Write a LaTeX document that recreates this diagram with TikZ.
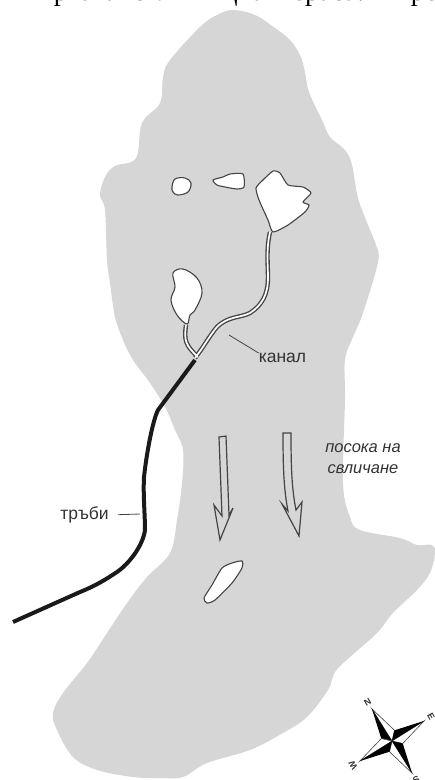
\documentclass[tikz,border=0pt]{standalone}
\usepackage{fontspec}
\setmainfont{Liberation Sans}
\newfontfamily\topfont{Liberation Serif}
\usepackage{tikz}

\begin{document}
\begin{tikzpicture}[
  x=1pt, y=-1pt,
  slide/.style={fill=slidegray, draw=none},
  pond/.style={fill=white, draw=linegray, line width=1.1pt},
  canalout/.style={draw=linegray, line width=4.4pt},
  canalin/.style={draw=white, line width=1.7pt},
  pipe/.style={draw=pipeblack, line width=4pt},
  flow/.style={draw=linegray, line width=1.2pt, line join=miter},
  leader/.style={draw=linegray, line width=0.8pt},
  label/.style={inner sep=0pt, text=textgray, font=\fontsize{17.5}{21}\selectfont, align=center},
  compass/.style={inner sep=0pt, text=textgray, font=\fontsize{9}{10}\selectfont\bfseries}
]
\definecolor{slidegray}{HTML}{D6D6D6}
\definecolor{linegray}{HTML}{444444}
\definecolor{textgray}{HTML}{333333}
\definecolor{pipeblack}{HTML}{1A1A1A}
\useasboundingbox (0,0) rectangle (435,780);

% clipped line of text above the picture
\begin{scope}
\clip (0,0) rectangle (435,780);
\node[anchor=base west, inner sep=0pt, font=\topfont\fontsize{28}{32}\selectfont] (caption) at (19,0.5) {Първата\hspace{0.3em} свличищна\hspace{0.3em} тераса:\hspace{0.3em} в\hspace{0.3em} ро};
\end{scope}

% landslide body
\path[slide] plot[smooth cycle, tension=0.6] coordinates {
  (233,10) (255,15) (275,28) (290,40) (300,55) (305,72) (309,92) (322,120)
  (330,137) (345,150) (352,165) (358,198) (368,225) (376,245) (378,262)
  (363,313) (353,337) (345,360) (345,400) (343,483) (350,517) (360,530) (400,538)
  (417,545) (432,545) (435,553) (430,573) (417,590) (393,613) (377,633) (350,657)
  (335,672) (328,690) (307,717) (283,733) (250,750) (207,763) (183,777) (160,778)
  (133,777) (97,770) (73,757) (57,730) (53,713) (63,693) (87,663) (107,633) (127,603)
  (147,577) (170,553) (177,520) (182,483) (183,450) (175,430) (165,407) (150,383)
  (133,360) (123,340) (115,317) (110,283) (107,260) (105,210) (100,195) (105,177)
  (115,166) (136,158) (142,123) (160,103) (163,77) (170,60) (200,27) (217,15)};

% canal
\draw[canalout] (270,232) .. controls (266,250) and (268,265) .. (268,277) .. controls (268,295) and (262,305) .. (250,313) .. controls (240,318) and (228,316) .. (217,327) .. controls (210,335) and (203,348) .. (195,358);
\draw[canalout] (186,325) .. controls (184,340) and (185,345) .. (198,357);
\draw[canalin] (270,232) .. controls (266,250) and (268,265) .. (268,277) .. controls (268,295) and (262,305) .. (250,313) .. controls (240,318) and (228,316) .. (217,327) .. controls (210,335) and (203,348) .. (195,358);
\draw[canalin] (186,325) .. controls (184,340) and (185,345) .. (198,357);

% ponds
\draw[pond] plot[smooth cycle, tension=0.6] coordinates {(172,187) (175,179) (185,178) (191,183) (188,192) (178,195) (173,192)};
\draw[pond] plot[smooth cycle, tension=0.4] coordinates {(213,180) (223,177) (230,174) (243,174) (244,187) (237,189) (225,187) (217,185)};
\draw[pond] plot[smooth cycle, tension=0.35] coordinates {(256,188) (263,180) (273,171) (280,173) (288,185) (303,187) (311,193) (303,202) (309,205) (305,212) (288,225) (273,232) (268,220) (259,200)};
\draw[pond] plot[smooth cycle, tension=0.6] coordinates {(173,273) (183,269) (197,278) (202,293) (195,310) (190,315) (187,324) (177,315) (171,300) (175,287)};
\draw[pond] plot[smooth cycle, tension=0.4] coordinates {(242,561) (242,568) (232,583) (215,600) (207,603) (204,598) (212,585) (222,568) (232,563)};

% pipes
\draw[pipe] (195,360) -- (158,410) .. controls (153,420) and (147,450) .. (144,477) .. controls (143,495) and (145,515) .. (145,530) .. controls (143,545) and (130,563) .. (117,572) .. controls (105,580) and (95,586) .. (80,592) -- (13,622);

% flow arrows
\draw[flow] (219,437) -- (226,436) -- (229,515) -- (233,508) -- (220,540) -- (214,505) -- (222,516) -- cycle;
\draw[flow] (283,433) -- (291,433) .. controls (291,470) and (292,490) .. (296,510) -- (302,502) -- (299,536) -- (282,504) -- (288,511) .. controls (284,490) and (283,470) .. (283,433) -- cycle;

% labels
\node[label] (kanal) at (282.5,358) {канал};
\node[label] (trabi) at (84.5,515) {тръби};
\node[label, font=\fontsize{16.5}{21}\selectfont\itshape] (posoka) at (363,459) {посока на\\свличане};
\coordinate (kanalend) at (229,335);
\coordinate (trabiend) at (140,514);
\draw[leader] (kanal.north west) -- (kanalend);
\draw[leader, shorten <=9pt] (trabi.east) -- (trabiend);

% compass rose
\begin{scope}[shift={(392,741)}]
\foreach \ang/\name/\rot in {-122/N/30,-32/E/-60,58/S/210,148/W/120} {
  \draw[draw=linegray, line width=0.6pt, fill=white] (0,0) -- (\ang:38) -- (\ang+45:11) -- cycle;
  \fill[black] (0,0) -- (\ang:38) -- (\ang-45:11) -- cycle;
  \node[compass, rotate=\rot] (rose\name) at (\ang:46) {\name};
}
\end{scope}
\end{tikzpicture}
\end{document}
